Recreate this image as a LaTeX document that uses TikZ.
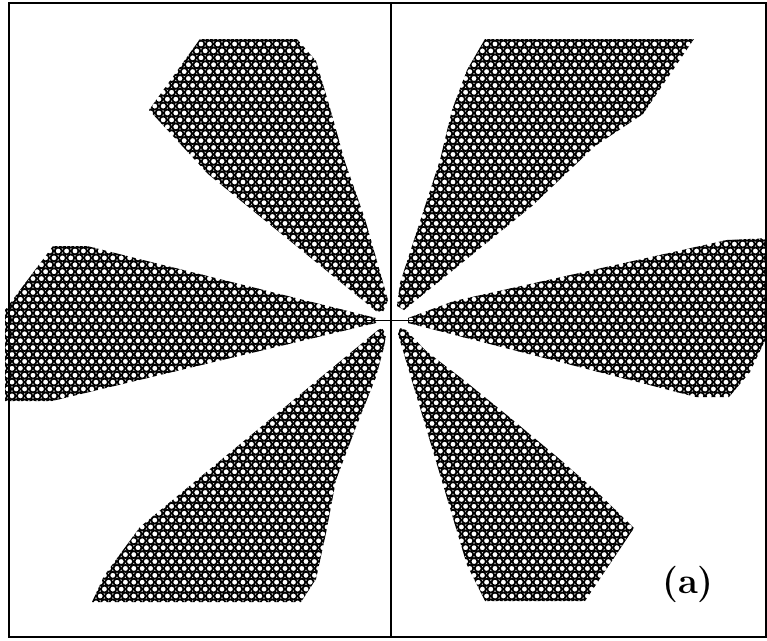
\documentclass[tikz,border=0pt]{standalone}
\usepackage{tikz}
\usetikzlibrary{positioning}

% one lobe of the lattice: clip polygon, i-range, j-range
\newcommand\drawlobe[5]{%
  \begin{scope}
    \clip #1 -- cycle;
    \foreach \j in {#4,...,#5}{
      \pgfmathsetmacro\yy{320+6.9*\j}
      \pgfmathsetmacro\sh{4.2*mod(abs(\j),2)}
      \draw[blob] \foreach \i in {#2,...,#3}{ ({394.2+8.4*\i-\sh},\yy) circle[radius=0.105cm] };
    }
  \end{scope}}

\begin{document}
\begin{tikzpicture}[
    x=0.03cm, y=-0.03cm,
    blob/.style={draw=black,line width=1.5pt},
    frame/.style={draw=black,line width=1.3pt},
    tag/.style={font=\fontsize{31}{31}\selectfont\bfseries,inner sep=0pt},
  ]
  \useasboundingbox (0,0) rectangle (767,640);

  % six lobes
  \drawlobe{(200,39) -- (297,39) -- (316,61) -- (330,108) -- (345,162) -- (365,219) -- (388,300) -- (383,312) -- (376,311) -- (208,174) -- (149,110)}{-30}{0}{-41}{-1}
  \drawlobe{(485,39) -- (694,39) -- (643,114) -- (595,146) -- (532,206) -- (404,310) -- (397,306) -- (400,283) -- (440,160) -- (452,110) -- (467,70)}{-1}{36}{-41}{-1}
  \drawlobe{(87,246) -- (376,318) -- (376,323) -- (52,401) -- (5,401) -- (5,310) -- (53,246)}{-47}{-2}{-11}{12}
  \drawlobe{(408,318) -- (454,301) -- (727,240) -- (770,238) -- (770,330) -- (750,372) -- (729,397) -- (696,397) -- (408,323)}{0}{45}{-12}{11}
  \drawlobe{(378,330) -- (382,328) -- (386,335) -- (384,347) -- (376,377) -- (356,427) -- (336,480) -- (326,533) -- (316,579) -- (301,602) -- (92,602) -- (104,576) -- (140,527)}{-37}{0}{1}{41}
  \drawlobe{(398,334) -- (400,328) -- (406,330) -- (426,351) -- (465,381) -- (508,416) -- (556,456) -- (596,491) -- (634,528) -- (585,601) -- (485,601) -- (467,565)}{-1}{29}{1}{41}

  % frame, divider and axis
  \draw[frame] (9,3) rectangle (766,637);
  \coordinate (top) at (391,3);
  \coordinate (bot) at (391,637);
  \draw[frame] (top) -- (bot);
  \coordinate (axl) at (364,320);
  \coordinate (axr) at (416,320);
  \draw[line width=0.5pt] (axl) -- (axr);

  \node[tag] (lbl) at (688,584) {(a)};
\end{tikzpicture}
\end{document}
